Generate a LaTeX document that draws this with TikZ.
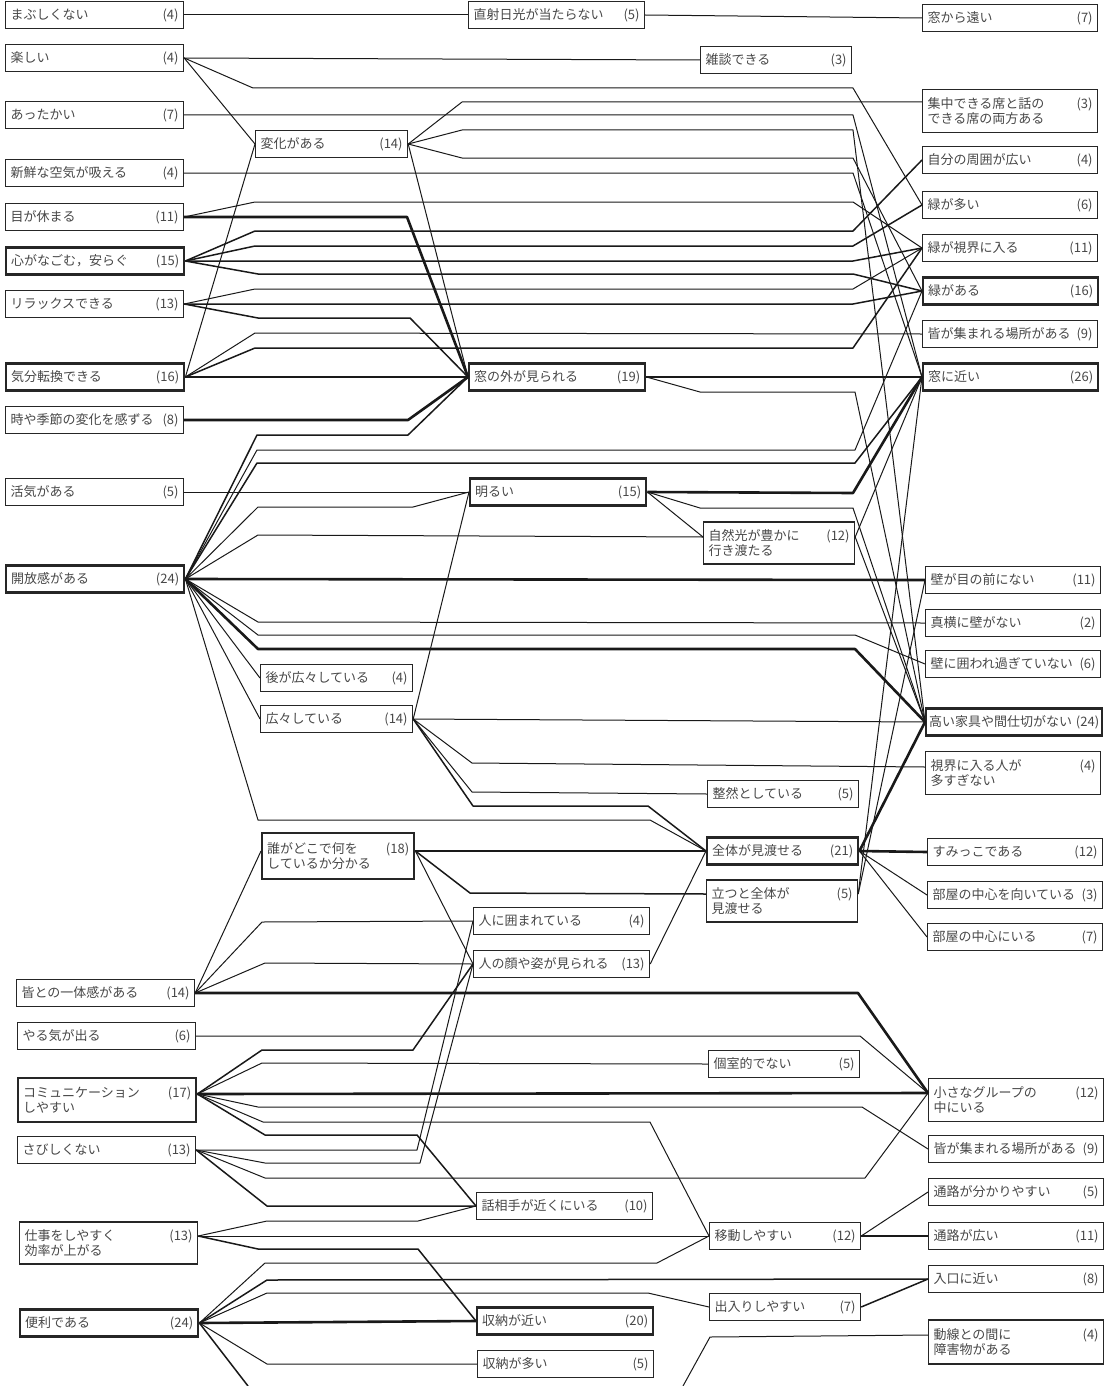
\documentclass[tikz,border=0pt]{standalone}
\usepackage{fontspec}
\newfontfamily\jpfont{Noto Sans CJK JP}

\begin{document}
\begin{tikzpicture}[
  x=1pt, y=-1pt,
  box/.style={rectangle, draw=black!85, line width=1.2pt, anchor=west,
              align=left, inner xsep=5pt, inner ysep=3pt,
              minimum height=27pt, text=black!72,
              font=\jpfont\fontsize{13}{15}\selectfont},
  heavy/.style={line width=2.4pt},
  wl/.style={text width=168pt},
  wm/.style={text width=142pt},
  wc/.style={text width=166pt},
  wr/.style={text width=141pt},
  we/.style={text width=165pt},
  ln/.style={draw=black!90, line width=1pt, line join=round},
  lnm/.style={ln, line width=1.5pt},
  lnb/.style={ln, line width=2.6pt}
]
\useasboundingbox (0,0) rectangle (1109,1386);

% left column
\node[box, wl] (mab) at (5,15) {まぶしくない\hfill(4)};
\node[box, wl] (tan) at (5,58) {楽しい\hfill(4)};
\node[box, wl] (att) at (5,115) {あったかい\hfill(7)};
\node[box, wl] (sen) at (5,173) {新鮮な空気が吸える\hfill(4)};
\node[box, wl] (me) at (5,217) {目が休まる\hfill(11)};
\node[box, wl, heavy] (koko) at (5,261) {心がなごむ，安らぐ\hfill(15)};
\node[box, wl] (rel) at (5,304) {リラックスできる\hfill(13)};
\node[box, wl, heavy] (kibun) at (5,377) {気分転換できる\hfill(16)};
\node[box, wl] (toki) at (5,420) {時や季節の変化を感ずる\hfill(8)};
\node[box, wl] (kakki) at (5,492) {活気がある\hfill(5)};
\node[box, wl, heavy] (kaiho) at (5,579) {開放感がある\hfill(24)};
\node[box, wl] (ittai) at (16,993) {皆との一体感がある\hfill(14)};
\node[box, wl] (yaru) at (17,1036) {やる気が出る\hfill(6)};
\node[box, wl, heavy, minimum height=44pt] (comm) at (17,1100) {コミュニケーション\hfill(17)\\しやすい};
\node[box, wl] (sabi) at (17,1150) {さびしくない\hfill(13)};
\node[box, wl, minimum height=42pt] (shigoto) at (19,1243) {仕事をしやすく\hfill(13)\\効率が上がる};
\node[box, wl, heavy] (benri) at (19,1323) {便利である\hfill(24)};

% second column
\node[box, wm] (henka) at (255,144) {変化がある\hfill(14)};
\node[box, wm] (ushiro) at (260,678) {後が広々している\hfill(4)};
\node[box, wm] (hiro) at (260,719) {広々している\hfill(14)};
\node[box, wm, heavy, minimum height=46pt] (dare) at (261,856) {誰がどこで何を\hfill(18)\\しているか分かる};

% middle column
\node[box, wc] (choku) at (468,15) {直射日光が当たらない\hfill(5)};
\node[box, wc, heavy] (soto) at (468,377) {窓の外が見られる\hfill(19)};
\node[box, wc, heavy] (akarui) at (469,492) {明るい\hfill(15)};
\node[box, wc] (kakom) at (473,921) {人に囲まれている\hfill(4)};
\node[box, wc] (kao) at (473,964) {人の顔や姿が見られる\hfill(13)};
\node[box, wc] (aite) at (476,1206) {話相手が近くにいる\hfill(10)};
\node[box, wc, heavy] (shuk) at (476,1321) {収納が近い\hfill(20)};
\node[box, wc] (shuo) at (477,1364) {収納が多い\hfill(5)};

% fourth column
\node[box, wr] (zatsu) at (700,60) {雑談できる\hfill(3)};
\node[box, wr, minimum height=42pt] (shizen) at (703,543) {自然光が豊かに\hfill(12)\\行き渡たる};
\node[box, wr] (seizen) at (707,794) {整然としている\hfill(5)};
\node[box, wr, heavy] (zentai) at (706,851) {全体が見渡せる\hfill(21)};
\node[box, wr, minimum height=42pt] (tatsu) at (706,901) {立つと全体が\hfill(5)\\見渡せる};
\node[box, wr] (koshitsu) at (708,1064) {個室的でない\hfill(5)};
\node[box, wr] (ido) at (709,1236) {移動しやすい\hfill(12)};
\node[box, wr] (deiri) at (709,1307) {出入りしやすい\hfill(7)};

% right column
\node[box, we] (toi) at (922,18) {窓から遠い\hfill(7)};
\node[box, we, minimum height=43pt] (shuchu) at (922,111) {集中できる席と話の\hfill(3)\\できる席の両方ある};
\node[box, we] (shui) at (922,160) {自分の周囲が広い\hfill(4)};
\node[box, we] (mio) at (922,205) {緑が多い\hfill(6)};
\node[box, we] (mishi) at (922,248) {緑が視界に入る\hfill(11)};
\node[box, we, heavy] (mia) at (922,291) {緑がある\hfill(16)};
\node[box, we] (atsu) at (922,334) {皆が集まれる場所がある\hfill(9)};
\node[box, we, heavy] (chika) at (922,377) {窓に近い\hfill(26)};
\node[box, we] (kabe) at (925,580) {壁が目の前にない\hfill(11)};
\node[box, we] (yoko) at (925,623) {真横に壁がない\hfill(2)};
\node[box, we] (kako) at (925,664) {壁に囲われ過ぎていない\hfill(6)};
\node[box, we, heavy, inner xsep=3pt, text width=170pt] (takai) at (925,722) {高い家具や間仕切がない\hfill(24)};
\node[box, we, minimum height=43pt] (shikai) at (925,773) {視界に入る人が\hfill(4)\\多すぎない};
\node[box, we] (sumi) at (927,852) {すみっこである\hfill(12)};
\node[box, we] (muki) at (927,895) {部屋の中心を向いている\hfill(3)};
\node[box, we] (chushin) at (927,937) {部屋の中心にいる\hfill(7)};
\node[box, we, minimum height=43pt] (group) at (928,1100) {小さなグループの\hfill(12)\\中にいる};
\node[box, we] (atsu2) at (928,1149) {皆が集まれる場所がある\hfill(9)};
\node[box, we] (wakari) at (928,1192) {通路が分かりやすい\hfill(5)};
\node[box, we] (tsuro) at (928,1236) {通路が広い\hfill(11)};
\node[box, we] (iri) at (928,1279) {入口に近い\hfill(8)};
\node[box, we, minimum height=44pt] (dosen) at (928,1342) {動線との間に\hfill(4)\\障害物がある};

% upper part
\draw[ln] (mab.east) -- (choku.west);
\draw[ln] (choku.east) -- (toi.west);
\draw[ln] (tan.east) -- (zatsu.west);
\draw[ln] (tan.east) -- (253,88) -- (853,88) -- (mio.west);
\draw[ln] (tan.east) -- (henka.west);
\draw[ln] (att.east) -- (853,115) -- (chika.west);
\draw[ln] (henka.east) -- (462,102) -- ([yshift=9pt]shuchu.west);
\draw[ln] (henka.east) -- (462,130) -- (853,130) -- (takai.west);
\draw[ln] (henka.east) -- (462,158) -- (853,158) -- (mia.west);
\draw[ln] (henka.east) -- (soto.west);
\draw[ln] (sen.east) -- (853,173) -- (chika.west);
\draw[ln] (me.east) -- (255,202) -- (853,202) -- (mishi.west);
\draw[lnb] (me.east) -- (407,217) -- (soto.west);
\draw[lnm] (koko.east) -- (255,231) -- (853,231) -- (shui.west);
\draw[lnm] (koko.east) -- (255,246) -- (853,246) -- (mio.west);
\draw[lnm] (koko.east) -- (853,261) -- (mishi.west);
\draw[lnm] (koko.east) -- (258,274) -- (853,274) -- (mia.west);
\draw[ln] (rel.east) -- (255,289) -- (853,289) -- (mishi.west);
\draw[lnm] (rel.east) -- (853,304) -- (mia.west);
\draw[lnm] (rel.east) -- (258,318) -- (410,318) -- (soto.west);
\draw[ln] (kibun.east) -- (255,333) -- (atsu.west);
\draw[lnm] (kibun.east) -- (255,348) -- (853,348) -- (mishi.west);
\draw[lnb] (kibun.east) -- (soto.west);
\draw[ln] (kibun.east) -- (henka.west);
\draw[lnb] (toki.east) -- (408,420) -- (soto.west);
\draw[lnb] (soto.east) -- (chika.west);
\draw[ln] (soto.east) -- (700,392) -- (855,392) -- (takai.west);

% open feeling
\draw[lnm] (kaiho.east) -- (257,435) -- (408,435) -- (soto.west);
\draw[ln] (kaiho.east) -- (257,450) -- (855,450) -- (mia.west);
\draw[lnm] (kaiho.east) -- (257,463) -- (855,463) -- (chika.west);
\draw[ln] (kakki.east) -- (akarui.west);
\draw[ln] (kaiho.east) -- (258,507) -- (413,507) -- (akarui.west);
\draw[ln] (kaiho.east) -- (258,535) -- ([yshift=6pt]shizen.west);
\draw[lnb] (kaiho.east) -- (kabe.west);
\draw[ln] (kaiho.east) -- (258,622) -- (yoko.west);
\draw[ln] (kaiho.east) -- (258,635) -- (855,635) -- (kako.west);
\draw[lnb] (kaiho.east) -- (258,649) -- (855,649) -- (takai.west);
\draw[ln] (kaiho.east) -- (ushiro.west);
\draw[ln] (kaiho.east) -- (hiro.west);
\draw[ln] (kaiho.east) -- (258,820) -- (650,820) -- (zentai.west);
\draw[lnb] (akarui.east) -- (853,493) -- (chika.west);
\draw[ln] (akarui.east) -- (700,508) -- (853,508) -- (takai.west);
\draw[ln] (akarui.east) -- ([yshift=6pt]shizen.west);
\draw[ln] ([yshift=6pt]shizen.east) -- (chika.west);
\draw[ln] ([yshift=6pt]shizen.east) -- (takai.west);
\draw[ln] (hiro.east) -- (akarui.west);
\draw[ln] (hiro.east) -- (takai.west);
\draw[ln] (hiro.east) -- (472,763) -- ([yshift=6pt]shikai.west);
\draw[ln] (hiro.east) -- (472,792) -- (seizen.west);
\draw[lnm] (hiro.east) -- (473,806) -- (648,806) -- (zentai.west);

% overview
\draw[lnb] ([yshift=5pt]dare.east) -- (zentai.west);
\draw[lnm] ([yshift=5pt]dare.east) -- (470,893) -- ([yshift=7pt]tatsu.west);
\draw[ln] ([yshift=5pt]dare.east) -- (kao.west);
\draw[ln] (kao.east) -- (zentai.west);
\draw[lnb] (zentai.east) -- (takai.west);
\draw[lnb] (zentai.east) -- (sumi.west);
\draw[ln] (zentai.east) -- (muki.west);
\draw[ln] (zentai.east) -- (chushin.west);
\draw[ln] ([yshift=7pt]tatsu.east) -- (kabe.west);
\draw[ln] ([yshift=7pt]tatsu.east) -- (chika.west);

% lower part
\draw[ln] (ittai.east) -- ([yshift=5pt]dare.west);
\draw[ln] (ittai.east) -- (262,922) -- (kakom.west);
\draw[ln] (ittai.east) -- (265,963) -- (kao.west);
\draw[lnb] (ittai.east) -- (858,993) -- ([yshift=7pt]group.west);
\draw[ln] (yaru.east) -- (860,1036) -- ([yshift=7pt]group.west);
\draw[lnm] ([yshift=6pt]comm.east) -- (262,1050) -- (413,1050) -- (kao.west);
\draw[ln] ([yshift=6pt]comm.east) -- (262,1063) -- (koshitsu.west);
\draw[lnb] ([yshift=6pt]comm.east) -- ([yshift=7pt]group.west);
\draw[ln] ([yshift=6pt]comm.east) -- (258,1107) -- (862,1107) -- (atsu2.west);
\draw[ln] ([yshift=6pt]comm.east) -- (263,1122) -- (650,1122) -- (ido.west);
\draw[lnm] ([yshift=6pt]comm.east) -- (265,1135) -- (417,1135) -- (aite.west);
\draw[ln] (sabi.east) -- (417,1150) -- (kakom.west);
\draw[ln] (sabi.east) -- (265,1163) -- (420,1163) -- (kao.west);
\draw[ln] (sabi.east) -- (265,1178) -- (865,1178) -- ([yshift=7pt]group.west);
\draw[lnm] (sabi.east) -- (267,1206) -- (aite.west);
\draw[ln] ([yshift=7pt]shigoto.east) -- (267,1221) -- (418,1221) -- (aite.west);
\draw[ln] ([yshift=7pt]shigoto.east) -- (ido.west);
\draw[lnm] ([yshift=7pt]shigoto.east) -- (258,1249) -- (418,1249) -- (shuk.west);
\draw[ln] (benri.east) -- (265,1263) -- (657,1263) -- (ido.west);
\draw[lnm] (benri.east) -- (267,1280) -- (iri.west);
\draw[ln] (benri.east) -- (267,1293) -- (648,1293) -- (deiri.west);
\draw[lnb] (benri.east) -- (shuk.west);
\draw[ln] (benri.east) -- (267,1364) -- (shuo.west);
\coordinate (cutA) at (248,1386);
\coordinate (cutB) at (683,1386);
\draw[lnm] (benri.east) -- (cutA);
\draw[ln] (cutB) -- (710,1337) -- ([yshift=7pt]dosen.west);
\draw[ln] (ido.east) -- (wakari.west);
\draw[lnb] (ido.east) -- (tsuro.west);
\draw[lnm] (deiri.east) -- (iri.west);
\end{tikzpicture}
\end{document}
